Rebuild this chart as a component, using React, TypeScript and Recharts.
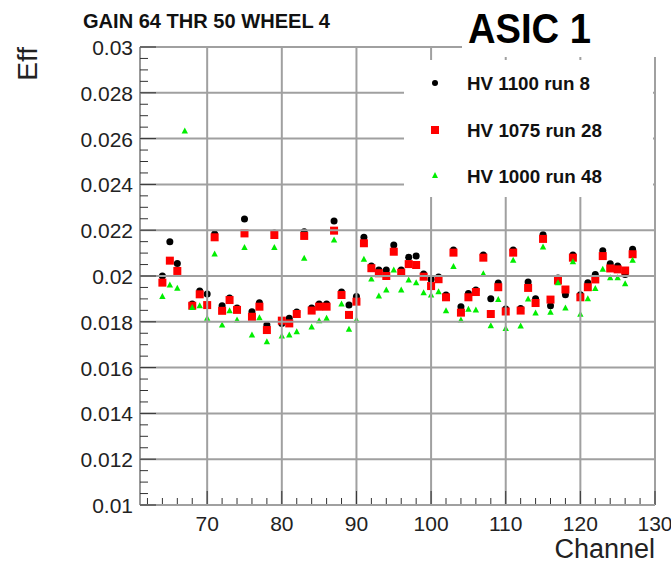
import React from 'react'
import {
  ScatterChart,
  Scatter,
  XAxis,
  YAxis,
  ReferenceLine,
} from 'recharts'

const channels = [
  64, 65, 66, 67, 68, 69, 70, 71, 72, 73, 74, 75, 76, 77, 78, 79,
  80, 81, 82, 83, 84, 85, 86, 87, 88, 89, 90, 91, 92, 93, 94, 95,
  96, 97, 98, 99, 100, 101, 102, 103, 104, 105, 106, 107, 108, 109, 110, 111,
  112, 113, 114, 115, 116, 117, 118, 119, 120, 121, 122, 123, 124, 125, 126, 127,
]

// HV 1100 run 8
const effHv1100 = [
  0.0200, 0.0215, 0.02055, null, 0.01878, 0.01934, 0.01921, 0.02183, 0.01870, 0.01904, 0.01860, 0.02249, 0.01844, 0.01883, 0.01786, 0.02188,
  0.01793, 0.01815, 0.01843, 0.02193, 0.01860, 0.01878, 0.01878, 0.02240, 0.01930, 0.01873, 0.01910, 0.02169, 0.02044, 0.02026, 0.02026, 0.02135,
  0.02026, 0.02082, 0.02087, 0.02009, 0.01986, 0.01996, 0.01917, 0.02114, 0.01866, 0.01924, 0.01939, 0.02092, 0.01901, 0.01969, 0.01856, 0.02114,
  0.01858, 0.01974, 0.01901, 0.02180, 0.01870, 0.01991, 0.01918, 0.02092, 0.01918, 0.01970, 0.02007, 0.02110, 0.02054, 0.02044, 0.02007, 0.02117,
]

// HV 1075 run 28
const effHv1075 = [
  0.01971, 0.02067, 0.02022, null, 0.01870, 0.01920, 0.01873, 0.02169, 0.01848, 0.01895, 0.01852, 0.02186, 0.01822, 0.01866, 0.01764, 0.02179,
  0.01805, 0.01793, 0.01834, 0.02175, 0.01849, 0.01866, 0.01866, 0.02198, 0.01917, 0.01830, 0.01888, 0.02143, 0.02034, 0.02012, 0.02000, 0.02106,
  0.02014, 0.02052, 0.02048, 0.01997, 0.01956, 0.01986, 0.01907, 0.02102, 0.01840, 0.01907, 0.01930, 0.02080, 0.01834, 0.01951, 0.01845, 0.02102,
  0.01849, 0.01948, 0.01882, 0.02162, 0.01897, 0.01980, 0.01941, 0.02080, 0.01907, 0.01951, 0.01985, 0.02087, 0.02033, 0.02029, 0.02024, 0.02095,
]

// HV 1000 run 48
const effHv1000 = [
  0.01910, 0.01961, 0.01946, 0.02633, 0.01862, 0.01870, 0.01815, 0.02096, 0.01786, 0.01848, 0.01808, 0.02125, 0.01742, 0.01818, 0.01713, 0.02125,
  0.01738, 0.01742, 0.01757, 0.02077, 0.01777, 0.01805, 0.01815, 0.02157, 0.01878, 0.01767, 0.01808, 0.02073, 0.01987, 0.01913, 0.01939, 0.02026,
  0.01939, 0.01983, 0.01971, 0.01927, 0.01917, 0.01931, 0.01848, 0.02041, 0.01808, 0.01855, 0.01852, 0.02010, 0.01783, 0.01897, 0.01771, 0.02069,
  0.01782, 0.01900, 0.01838, 0.02127, 0.01842, 0.01970, 0.01860, 0.02062, 0.01833, 0.01901, 0.01945, 0.02029, 0.01992, 0.01992, 0.01966, 0.02069,
]

const xMajorTicks = [70, 80, 90, 100, 110, 120, 130]
const xTicks = [
  62, 64, 66, 68, 70, 72, 74, 76, 78, 80, 82, 84, 86, 88, 90, 92, 94, 96, 98, 100,
  102, 104, 106, 108, 110, 112, 114, 116, 118, 120, 122, 124, 126, 128, 130,
]
const yMajorTicks = [0.01, 0.012, 0.014, 0.016, 0.018, 0.02, 0.022, 0.024, 0.026, 0.028, 0.03]
const yTicks = [
  0.01, 0.0105, 0.011, 0.0115, 0.012, 0.0125, 0.013, 0.0135, 0.014, 0.0145,
  0.015, 0.0155, 0.016, 0.0165, 0.017, 0.0175, 0.018, 0.0185, 0.019, 0.0195,
  0.02, 0.0205, 0.021, 0.0215, 0.022, 0.0225, 0.023, 0.0235, 0.024, 0.0245,
  0.025, 0.0255, 0.026, 0.0265, 0.027, 0.0275, 0.028, 0.0285, 0.029, 0.0295, 0.03,
]

const legendLabels = ['HV 1100 run 8', 'HV 1075 run 28', 'HV 1000 run 48']
const legendWidths = [123, 135, 135]

const toPoints = (vals: (number | null)[]) =>
  channels
    .map((c, i) => ({ channel: c, eff: vals[i] }))
    .filter((p) => p.eff !== null)

const FONT = '"Liberation Sans", Arial, Helvetica, sans-serif'
const W = 671
const H = 568
const MARGIN = { top: 47, right: 16, bottom: 0, left: 0 }
const Y_AXIS_W = 140
const X_AXIS_H = 63
const PLOT_W = W - MARGIN.left - MARGIN.right - Y_AXIS_W
const PLOT_H = H - MARGIN.top - MARGIN.bottom - X_AXIS_H
const GRID = '#a0a0a0'

const isMajorX = (v: number) => xMajorTicks.includes(v)
const isMajorY = (v: number) => yMajorTicks.some((m) => Math.abs(m - v) < 1e-7)

// ticks point into the frame, ROOT style; major ticks also carry the grid line
function XTick(props: any) {
  const { x, y, payload } = props
  const v = payload.value as number
  const major = isMajorX(v)
  return (
    <g>
      {major && <line x1={x} x2={x} y1={y} y2={y - PLOT_H} stroke={GRID} strokeWidth={2} />}
      <line x1={x} x2={x} y1={y} y2={y - (major ? 14 : 7)} stroke="#333" strokeWidth={1} />
      {major && (
        <text x={x} y={y + 26} textAnchor="middle" fontFamily={FONT} fontSize={21} fill="#222">
          {v}
        </text>
      )}
    </g>
  )
}

function YTick(props: any) {
  const { x, y, payload } = props
  const v = payload.value as number
  const major = isMajorY(v)
  return (
    <g>
      {major && <line x1={x} x2={x + PLOT_W} y1={y} y2={y} stroke={GRID} strokeWidth={2} />}
      <line x1={x} x2={x + (major ? 16 : 8)} y1={y} y2={y} stroke="#333" strokeWidth={1} />
      {major && (
        <text x={x - 7} y={y + 8} textAnchor="end" fontFamily={FONT} fontSize={21} fill="#222">
          {parseFloat(v.toFixed(4)).toString()}
        </text>
      )}
    </g>
  )
}

const BlackDot = (p: any) => <circle cx={p.cx} cy={p.cy} r={3.5} fill="#000" />
const RedSquare = (p: any) => <rect x={p.cx - 4} y={p.cy - 4} width={8} height={8} fill="#ff0000" />
const GreenTriangle = (p: any) => (
  <polygon
    points={`${p.cx},${p.cy - 3.5} ${p.cx - 3.2},${p.cy + 2.5} ${p.cx + 3.2},${p.cy + 2.5}`}
    fill="#00ee00"
  />
)

export default function App() {
  return (
    <div style={{ position: 'absolute', left: 0, top: 0, width: W, height: H, background: '#fff' }}>
      <ScatterChart width={W} height={H} margin={MARGIN}>
        <ReferenceLine y={0.03} stroke="#555" strokeWidth={1} />
        <ReferenceLine x={130} stroke="#555" strokeWidth={1} />
        <XAxis
          type="number"
          dataKey="channel"
          domain={[61, 130]}
          ticks={xTicks}
          interval={0}
          height={X_AXIS_H}
          tickSize={0}
          tickMargin={0}
          tickLine={false}
          axisLine={{ stroke: '#333' }}
          tick={<XTick />}
          allowDataOverflow
        />
        <YAxis
          type="number"
          dataKey="eff"
          domain={[0.01, 0.03]}
          ticks={yTicks}
          interval={0}
          width={Y_AXIS_W}
          tickSize={0}
          tickMargin={0}
          tickLine={false}
          axisLine={{ stroke: '#333' }}
          tick={<YTick />}
          allowDataOverflow
        />
        <Scatter data={toPoints(effHv1100)} shape={BlackDot} isAnimationActive={false} />
        <Scatter data={toPoints(effHv1075)} shape={RedSquare} isAnimationActive={false} />
        <Scatter data={toPoints(effHv1000)} shape={GreenTriangle} isAnimationActive={false} />
      </ScatterChart>

      <svg
        width={W}
        height={H}
        style={{ position: 'absolute', left: 0, top: 0, pointerEvents: 'none' }}
      >
        <rect x={462} y={0} width={209} height={57} fill="#fff" />
        <rect x={404} y={60} width={249} height={137} fill="#fff" />
        <text
          x={83}
          y={28}
          fontFamily={FONT}
          fontWeight="bold"
          fontSize={20}
          fill="#111"
          textLength={247}
          lengthAdjust="spacingAndGlyphs"
        >
          GAIN 64 THR 50 WHEEL 4
        </text>
        <text
          x={468}
          y={43}
          fontFamily={FONT}
          fontWeight="bold"
          fontSize={43}
          fill="#000"
          textLength={123}
          lengthAdjust="spacingAndGlyphs"
        >
          ASIC 1
        </text>
        <text
          transform="translate(37, 47) rotate(-90)"
          textAnchor="end"
          fontFamily={FONT}
          fontSize={28}
          fill="#222"
        >
          Eff
        </text>
        <text x={655} y={558} textAnchor="end" fontFamily={FONT} fontSize={27} fill="#222">
          Channel
        </text>
        <circle cx={435} cy={83} r={3} fill="#000" />
        <rect x={431} y={126} width={8} height={8} fill="#ff0000" />
        <polygon points="435,172 432,178 438,178" fill="#00ee00" />
        {legendLabels.map((label, i) => (
          <text
            key={label}
            x={467}
            y={90 + i * 46.5}
            fontFamily={FONT}
            fontWeight="bold"
            fontSize={18}
            fill="#111"
            textLength={legendWidths[i]}
            lengthAdjust="spacingAndGlyphs"
          >
            {label}
          </text>
        ))}
      </svg>
    </div>
  )
}
